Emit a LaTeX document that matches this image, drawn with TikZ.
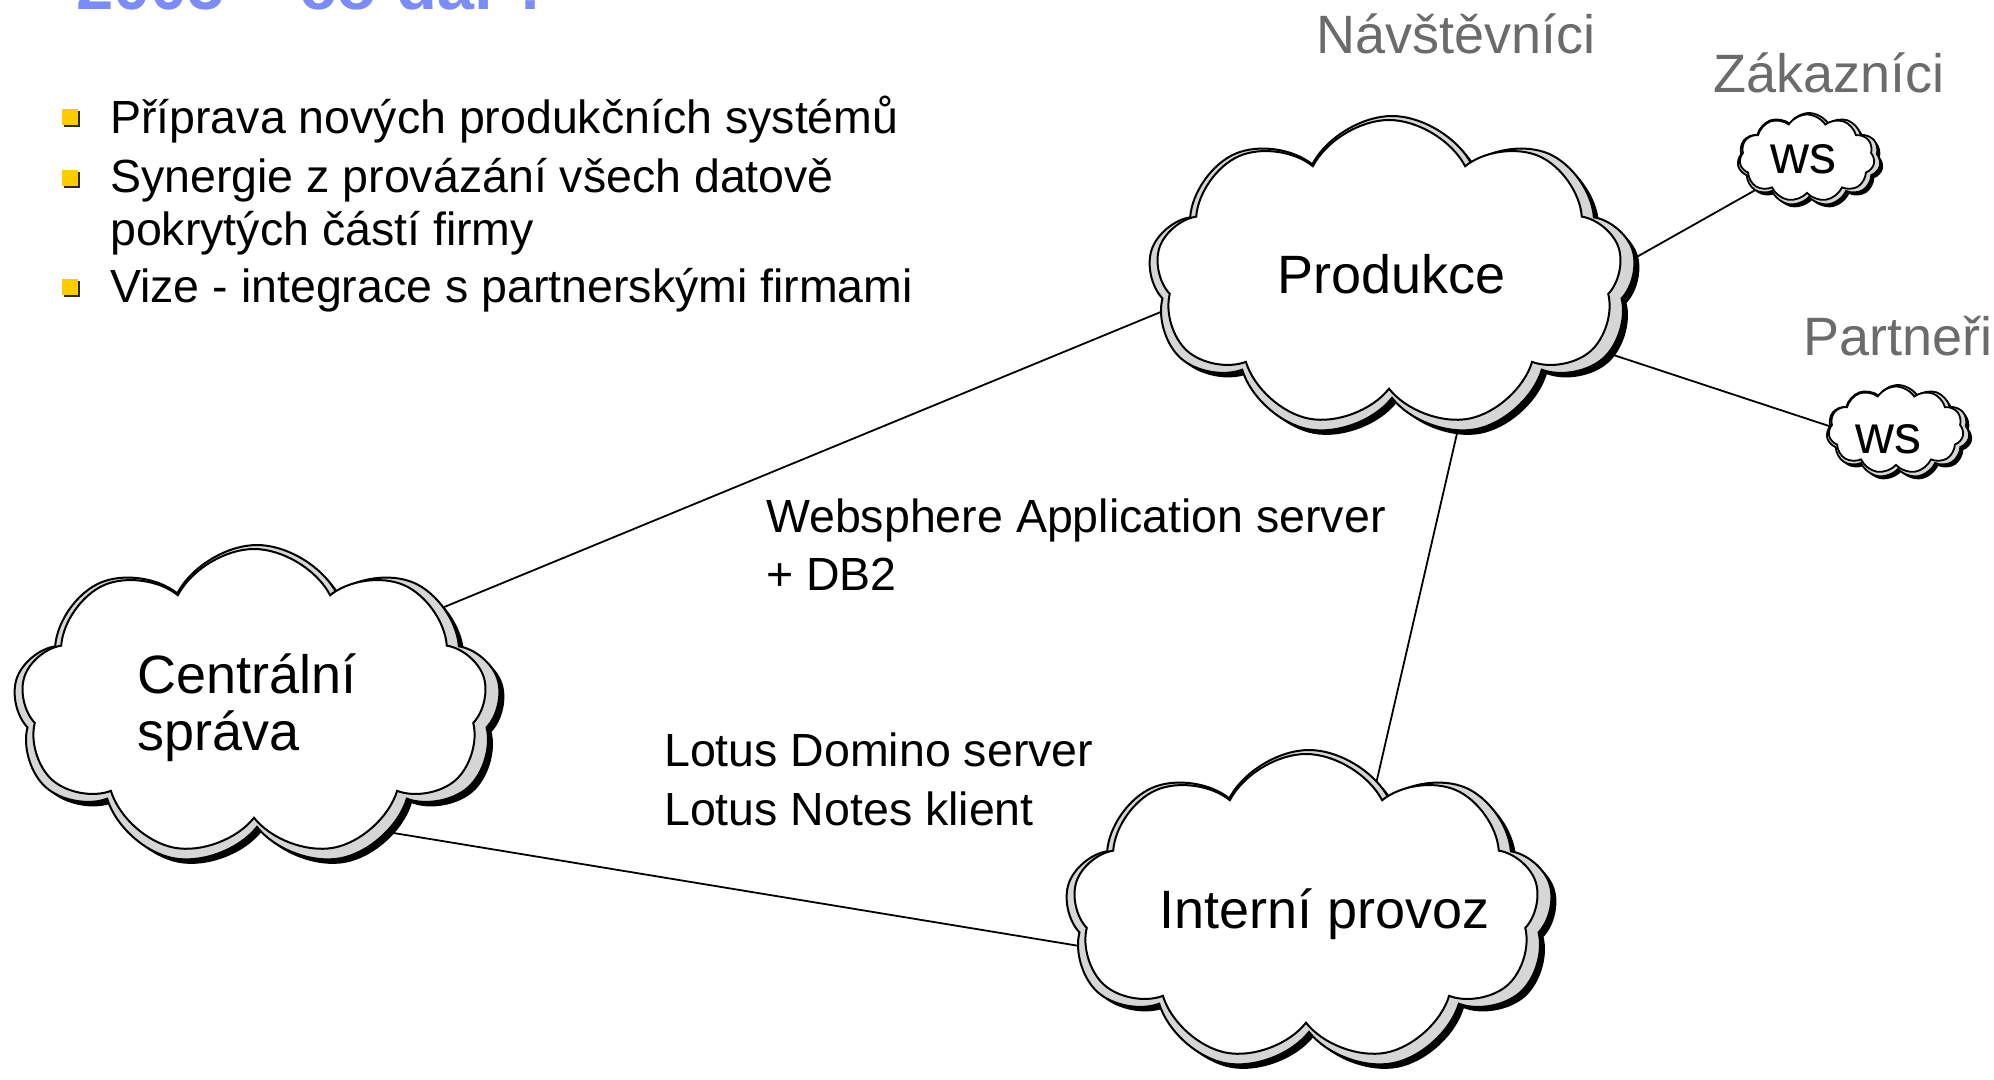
\documentclass[tikz,border=0pt]{standalone}
\usepackage{fontspec}
\setmainfont{Liberation Sans}
\usetikzlibrary{shapes.symbols}
\pgfdeclarelayer{bg}
\pgfsetlayers{bg,main}
\definecolor{titleblue}{HTML}{7B8CF5}
\definecolor{labelgray}{HTML}{6B6B6B}
\definecolor{bandgray}{HTML}{D6D6D6}
\definecolor{bulletyellow}{HTML}{FFCC00}
\definecolor{bulletshadow}{HTML}{2A2A2A}
\begin{document}
\begin{tikzpicture}[x=1pt,y=-1pt,
  txt/.style={inner sep=0pt, anchor=base west},
  bodyfont/.style={font=\fontsize{46.5}{56}\selectfont},
  cloudfont/.style={font=\fontsize{54}{64}\selectfont},
  graylabel/.style={txt, cloudfont, text=labelgray},
  conn/.style={draw=black, line width=1.8pt},
  cloudbase/.style={cloud, cloud puffs=9, cloud puff arc=125, cloud ignores aspect, inner sep=0pt, outer sep=0pt},
  bigwhite/.style={cloudbase, draw=black, line width=2pt, fill=white, minimum width=466pt, minimum height=308pt},
  bigband/.style={cloudbase, draw=black, line width=2pt, fill=bandgray, minimum width=488pt, minimum height=323pt, xshift=3pt, yshift=-3.5pt},
  bigshadow/.style={cloudbase, fill=black, minimum width=488pt, minimum height=323pt, xshift=8pt, yshift=-8pt},
  smallbase/.style={cloud, cloud puffs=11, cloud puff arc=115, cloud ignores aspect, inner sep=0pt, outer sep=0pt},
  smallwhite/.style={smallbase, draw=black, line width=1.8pt, fill=white, minimum width=135pt, minimum height=87pt},
  smallband/.style={smallbase, draw=black, line width=1.8pt, fill=bandgray, minimum width=143pt, minimum height=93pt, xshift=2pt, yshift=-1.5pt},
  smallshadow/.style={smallbase, fill=black, minimum width=143pt, minimum height=93pt, xshift=5pt, yshift=-4.5pt},
  bulletsq/.style={fill=bulletyellow},
  bulletsh/.style={fill=bulletshadow}
]
\useasboundingbox (0,0) rectangle (1994,1079);
\begin{pgfonlayer}{bg}
  \fill[white] (0,0) rectangle (1994,1079);
\end{pgfonlayer}
\clip (0,0) rectangle (1994,1079);

% title (cut off at the top, as in the reference)
\node[txt, font=\bfseries\fontsize{67}{80}\selectfont, text=titleblue] (title) at (76,9) {2005 – co dál ?};

% bullets
\foreach \y in {109,170,279} {
  \fill[bulletsh] (64,\y+2) rectangle (80,\y+18);
  \fill[bulletsq] (62,\y) rectangle (78,\y+16);
}
\node[txt, bodyfont] (b1) at (110,133) {Příprava nových produkčních systémů};
\node[txt, bodyfont] (b2a) at (110,192) {Synergie z provázání všech datově};
\node[txt, bodyfont] (b2b) at (110,245) {pokrytých částí firmy};
\node[txt, bodyfont] (b3) at (110,302) {Vize - integrace s partnerskými firmami};

% clouds: Produkce
\node[bigshadow] (prod-shadow) at (1389,274) {};
\node[bigband]   (prod-band)   at (1389,274) {};
\node[bigwhite]  (prod)        at (1389,274) {};
% Centralni sprava
\node[bigshadow] (cs-shadow) at (254,703) {};
\node[bigband]   (cs-band)   at (254,703) {};
\node[bigwhite]  (cs)        at (254,703) {};
% Interni provoz
\node[bigshadow] (int-shadow) at (1306,908) {};
\node[bigband]   (int-band)   at (1306,908) {};
\node[bigwhite]  (int)        at (1306,908) {};
% ws clouds
\node[smallshadow] (ws1-shadow) at (1807,158) {};
\node[smallband]   (ws1-band)   at (1807,158) {};
\node[smallwhite]  (ws1)        at (1807,158) {};
\node[smallshadow] (ws2-shadow) at (1896,430) {};
\node[smallband]   (ws2-band)   at (1896,430) {};
\node[smallwhite]  (ws2)        at (1896,430) {};

% connectors (behind the clouds)
\begin{pgfonlayer}{bg}
  \draw[conn] (cs.27) -- (prod.189);
  \draw[conn] (cs.-47) -- (int.190);
  \draw[conn] (prod.-64) -- (int.60);
  \draw[conn] (prod.2) -- (ws1.212);
  \draw[conn] (prod.-20) -- (ws2.177);
\end{pgfonlayer}

% cloud texts
\node[txt, cloudfont] (prod-text) at (1277,293) {Produkce};
\node[txt, cloudfont] (cs-text1) at (137,693) {Centrální};
\node[txt, cloudfont] (cs-text2) at (137,750) {správa};
\node[txt, cloudfont] (int-text) at (1159,928) {Interní provoz};
\node[txt, cloudfont] (ws1-text) at (1770,173) {ws};
\node[txt, cloudfont] (ws2-text) at (1855,453) {ws};

% group labels
\node[graylabel] (navst) at (1316,53) {Návštěvníci};
\node[graylabel] (zakaz) at (1713,92) {Zákazníci};
\node[graylabel] (partn) at (1803,355) {Partneři};

% technology labels
\node[txt, bodyfont] (was1) at (766,532) {Websphere Application server};
\node[txt, bodyfont] (was2) at (766,590) {+ DB2};
\node[txt, bodyfont] (lot1) at (664,766) {Lotus Domino server};
\node[txt, bodyfont] (lot2) at (664,825) {Lotus Notes klient};
\end{tikzpicture}
\end{document}
